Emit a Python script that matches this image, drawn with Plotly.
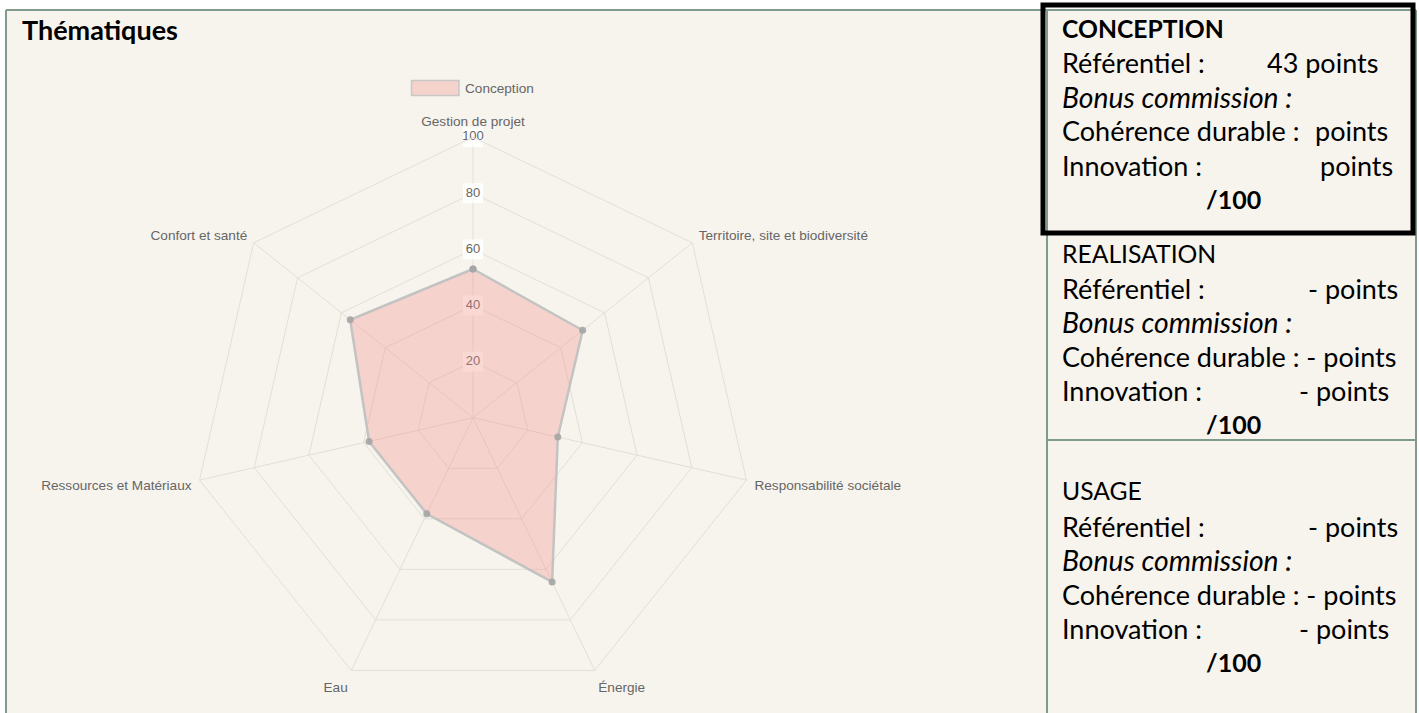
import plotly.graph_objects as go

# ---------------- data ----------------
categories = ["Gestion de projet", "Territoire, site et biodiversité", "Responsabilité sociétale",
              "Énergie", "Eau", "Ressources et Matériaux", "Confort et santé"]
conception_values = [53, 50, 31, 65, 38, 38, 56]
series_name = "Conception"
radial_ticks = [20, 40, 60, 80, 100]
radial_tick_labels = ["20", "40", "60", "80", "100"]
title_text = "Thématiques"

panel_titles = ["CONCEPTION", "REALISATION", "USAGE"]
referentiel_values = ["43 points", "- points", "- points"]
coherence_values = ["points", "- points", "- points"]
innovation_values = ["points", "- points", "- points"]
referentiel_label = "Référentiel :"
bonus_label = "Bonus commission :"
coherence_label = "Cohérence durable :"
innovation_label = "Innovation :"
total_label = "/100"

# ---------------- layout helpers ----------------
W, H = 1419, 713
def px(x):
    return x / W
def py(y):
    return 1 - y / H

CREAM = "#f7f4ee"
FRAME = "#809b8c"
GRID = "#e2dfd8"
LABEL = "#666666"
CHART_FONT = "Liberation Sans, Arial, sans-serif"

fig = go.Figure()

# radial tick labels drawn along the top spoke
fig.add_trace(go.Scatterpolar(
    r=radial_ticks, theta=[categories[0]] * len(radial_ticks),
    mode="markers+text", text=radial_tick_labels, textposition="middle center",
    marker=dict(symbol="square", size=20, color="rgba(255,255,255,0.85)", line=dict(width=0)),
    textfont=dict(family=CHART_FONT, size=13, color=LABEL),
    showlegend=False, hoverinfo="skip", cliponaxis=False,
))

fig.add_trace(go.Scatterpolar(
    r=conception_values + [conception_values[0]],
    theta=categories + [categories[0]],
    name=series_name, mode="lines+markers", fill="toself",
    fillcolor="rgba(243,141,131,0.32)",
    line=dict(color="rgba(195,195,195,1)", width=2.5),
    marker=dict(size=7, color="rgba(165,165,165,0.9)"),
    showlegend=False,
))

fig.update_layout(
    width=W, height=H,
    margin=dict(l=0, r=0, t=0, b=0),
    paper_bgcolor="white",
    font=dict(family=CHART_FONT, size=13, color=LABEL),
    showlegend=False,
    polar=dict(
        domain=dict(x=[px(473 - 280.5), px(473 + 280.5)], y=[py(417.7 + 280.5), py(417.7 - 280.5)]),
        bgcolor="rgba(0,0,0,0)",
        gridshape="linear",
        angularaxis=dict(direction="clockwise", rotation=90, showline=True, linecolor=GRID,
                         gridcolor=GRID, ticks="outside", ticklen=5, tickcolor="rgba(0,0,0,0)",
                         tickfont=dict(family=CHART_FONT, size=13.6, color=LABEL)),
        radialaxis=dict(range=[0, 100], tickvals=radial_ticks, showticklabels=False, ticks="",
                        showline=False, gridcolor=GRID, angle=90),
    ),
)

shapes = []
# cream background with frame
shapes.append(dict(type="rect", xref="paper", yref="paper", x0=px(6), x1=px(1416), y0=py(713), y1=py(10),
                   fillcolor=CREAM, line=dict(width=0), layer="below"))
for (x0, y0, x1, y1) in [(6, 10, 1416, 10), (6, 10, 6, 713), (1416, 10, 1416, 713),
                         (1047, 10, 1047, 713), (1047, 440, 1416, 440)]:
    shapes.append(dict(type="line", xref="paper", yref="paper", x0=px(x0), y0=py(y0), x1=px(x1), y1=py(y1),
                       line=dict(color=FRAME, width=2), layer="below"))
# highlighted conception box
shapes.append(dict(type="rect", xref="paper", yref="paper", x0=px(1043), x1=px(1413), y0=py(233), y1=py(5),
                   line=dict(color="black", width=5), fillcolor="rgba(0,0,0,0)"))
# legend swatch
shapes.append(dict(type="rect", xref="paper", yref="paper", x0=px(411.5), x1=px(459), y0=py(95.5), y1=py(80.5),
                   fillcolor="#f5d3cc", line=dict(color="#c8c8c8", width=1.5)))
fig.update_layout(shapes=shapes)

ann = []
def text(x, y, s, anchor="left", bold=False, italic=False, size=27, family="Lato, Carlito, Calibri, sans-serif",
         color="black"):
    if bold:
        s = "<b>" + s + "</b>"
    if italic:
        s = "<i>" + s + "</i>"
    ann.append(dict(x=px(x), y=py(y), xref="paper", yref="paper", text=s, showarrow=False,
                    xanchor=anchor, yanchor="middle", font=dict(family=family, size=size, color=color)))

# legend text
text(463, 88, series_name, size=13.6, family=CHART_FONT, color=LABEL)

text(20, 29, title_text, bold=True, size=27)

tops = [28, 253, 491]
ref_right = [1380, 1400, 1400]
inn_right = [1395, 1391, 1391]
for i, t0 in enumerate(tops):
    text(1060, t0, panel_titles[i], bold=(i == 0), size=24.7)
    text(1060, t0 + 35, referentiel_label)
    text(ref_right[i], t0 + 35, referentiel_values[i], anchor="right")
    text(1060, t0 + 69, bonus_label, italic=True, size=28.3)
    if i == 0:
        text(1060, t0 + 103, coherence_label)
        text(1390, t0 + 103, coherence_values[i], anchor="right")
    else:
        text(1060, t0 + 103, coherence_label + " " + coherence_values[i])
    text(1060, t0 + 137, innovation_label)
    text(inn_right[i], t0 + 137, innovation_values[i], anchor="right")
    text(1233, t0 + 171, total_label, anchor="center", bold=True, size=25)

fig.update_layout(annotations=ann)

fig.write_html("out.html", config={"displayModeBar": False},
               post_script="document.body.style.margin='0';")
